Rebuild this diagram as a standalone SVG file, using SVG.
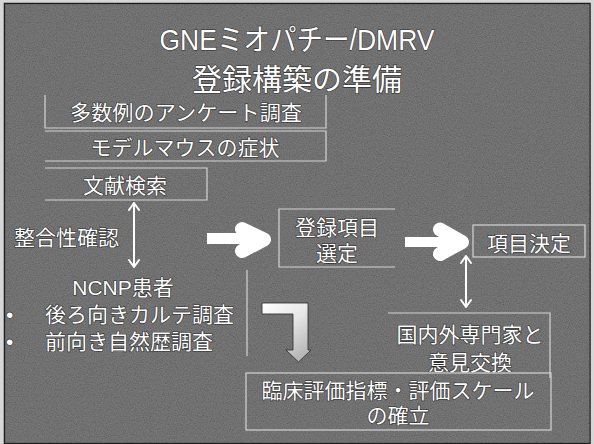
<svg xmlns="http://www.w3.org/2000/svg" width="594" height="444" viewBox="0 0 594 444">
<defs>
<style>
.t{font-family:"Liberation Sans","Noto Sans CJK JP",sans-serif;fill:#ffffff;stroke:#2a2a2a;stroke-width:1.2;paint-order:stroke;text-anchor:middle;font-size:21px}
.tl{text-anchor:start}
.title{font-size:30px}
.bx{fill:none;stroke:#d4d4d4;stroke-width:1.2}
.dbl{fill:none;stroke:#ffffff;stroke-width:2;stroke-linecap:round;stroke-linejoin:round}
.chev{fill:none;stroke:#ffffff;stroke-width:14;stroke-linecap:round;stroke-linejoin:round}
.shaft{fill:#ffffff}
</style>
<filter id="noise" x="0" y="0" width="100%" height="100%">
<feTurbulence type="fractalNoise" baseFrequency="0.85" numOctaves="2" seed="7"/>
<feColorMatrix type="matrix" values="1 0 0 0 0  1 0 0 0 0  1 0 0 0 0  0 0 0 0 1"/>
</filter>
<linearGradient id="lg" x1="0" y1="0" x2="0.6" y2="1">
<stop offset="0" stop-color="#ffffff"/>
<stop offset="0.5" stop-color="#e6e6e6"/>
<stop offset="1" stop-color="#b8b8b8"/>
</linearGradient>
</defs>
<rect x="0" y="0" width="594" height="444" fill="#d6d6d6"/>
<rect x="4.5" y="3.5" width="585.5" height="440" fill="#5c5c5c" stroke="#1e1e1e" stroke-width="1.5"/>
<rect x="5" y="4" width="585" height="439" filter="url(#noise)" opacity="0.22"/>

<g id="title">
<text class="t title" x="297" y="50" textLength="275" lengthAdjust="spacingAndGlyphs">GNEミオパチー/DMRV</text>
<text class="t title" x="297" y="90" font-size="29">登録構築の準備</text>
</g>

<g id="survey">
<path class="bx" d="M45,95 V128 H326 V95"/>
<text class="t" x="186" y="120" textLength="232" lengthAdjust="spacingAndGlyphs">多数例のアンケート調査</text>
</g>
<g id="mouse">
<path class="bx" d="M45,131 H326 V161 H45"/>
<text class="t" x="185" y="155">モデルマウスの症状</text>
</g>
<g id="literature">
<path class="bx" d="M45,168 H207 V200 H45"/>
<text class="t" x="125" y="193">文献検索</text>
</g>
<g id="consistency">
<text class="t tl" x="14" y="245">整合性確認</text>
</g>
<g id="ncnp">
<path class="bx" d="M247,270 V356"/>
<text class="t" x="123" y="295">NCNP患者</text>
<text class="t tl" x="6" y="322">•</text>
<text class="t tl" x="45" y="322">後ろ向きカルテ調査</text>
<text class="t tl" x="6" y="349">•</text>
<text class="t tl" x="45" y="349">前向き自然歴調査</text>
</g>
<g id="selection">
<path class="bx" d="M395,209 H279 V267 H395"/>
<text class="t" x="337" y="235">登録項目</text>
<text class="t" x="337" y="261">選定</text>
</g>
<g id="decision">
<rect class="bx" x="473" y="225" width="112" height="32"/>
<text class="t" x="529" y="251">項目決定</text>
</g>
<g id="experts">
<path class="bx" d="M388,313 H550 V378"/>
<text class="t" x="470" y="342">国内外専門家と</text>
<text class="t" x="470" y="370">意見交換</text>
</g>
<g id="establish">
<rect class="bx" x="246" y="373" width="305" height="57"/>
<text class="t" x="398" y="398">臨床評価指標・評価スケール</text>
<text class="t" x="398" y="423">の確立</text>
</g>

<g id="connectors">
<path class="dbl" d="M134,203 V267 M129,210 L134,203 L139,210 M129,260 L134,267 L139,260"/>
<path class="dbl" d="M466,256 V307 M461,263 L466,256 L471,263 M461,300 L466,307 L471,300"/>
<rect class="shaft" x="207" y="233" width="48" height="11"/>
<polyline class="chev" points="242,229 264,239.5 242,251"/>
<rect class="shaft" x="405" y="237" width="46" height="10"/>
<polyline class="chev" points="440,229.5 462,242 440,254"/>
<path d="M262,303 H308 V350 H311 L298.5,362 L286,350 H293 V314 H262 Z" fill="url(#lg)" stroke="#2a2a2a" stroke-width="0.8"/>
</g>
</svg>
